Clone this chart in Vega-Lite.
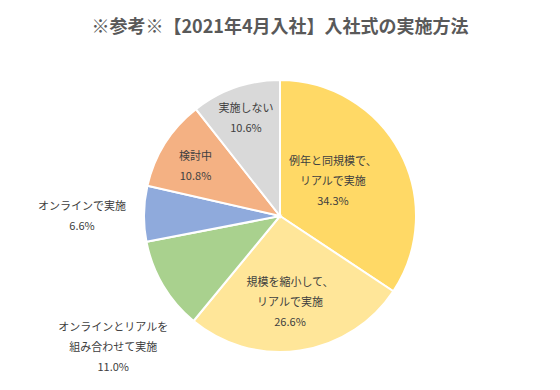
{
  "$schema": "https://vega.github.io/schema/vega-lite/v6.json",
  "width": 560,
  "height": 344,
  "autosize": {"type": "none"},
  "padding": {"left": 0, "right": 0, "top": 44, "bottom": 0},
  "background": "white",
  "title": {
    "text": "※参考※【2021年4月入社】入社式の実施方法",
    "font": "Noto Sans CJK JP",
    "fontSize": 18,
    "fontWeight": "bold",
    "color": "#595959",
    "offset": -20
  },
  "data": {
    "values": [
      {"i": 1, "cat": "例年と同規模で、リアルで実施", "label": "例年と同規模で、\nリアルで実施\n34.3%", "v": 34.3},
      {"i": 2, "cat": "規模を縮小して、リアルで実施", "label": "規模を縮小して、\nリアルで実施\n26.6%", "v": 26.6},
      {"i": 3, "cat": "オンラインとリアルを組み合わせて実施", "label": "オンラインとリアルを\n組み合わせて実施\n11.0%", "v": 11.0},
      {"i": 4, "cat": "オンラインで実施", "label": "オンラインで実施\n6.6%", "v": 6.6},
      {"i": 5, "cat": "検討中", "label": "検討中\n10.8%", "v": 10.8},
      {"i": 6, "cat": "実施しない", "label": "実施しない\n10.6%", "v": 10.6}
    ]
  },
  "encoding": {
    "theta": {"field": "v", "type": "quantitative", "stack": true},
    "order": {"field": "i", "type": "quantitative"}
  },
  "layer": [
    {
      "mark": {"type": "arc", "outerRadius": 136, "stroke": "white", "strokeWidth": 2},
      "encoding": {
        "color": {
          "field": "cat",
          "type": "nominal",
          "scale": {
            "domain": ["例年と同規模で、リアルで実施", "規模を縮小して、リアルで実施", "オンラインとリアルを組み合わせて実施", "オンラインで実施", "検討中", "実施しない"],
            "range": ["#FFD966", "#FFE699", "#A9D18E", "#8FAADC", "#F4B183", "#D9D9D9"]
          },
          "legend": null
        }
      }
    },
    {
      "mark": {"type": "text", "radius": 60, "dy": -26, "font": "Noto Sans CJK JP", "fontSize": 11, "color": "#404040", "lineBreak": "\n", "lineHeight": 20, "align": "center", "baseline": "middle"},
      "encoding": {"text": {"condition": {"test": "datum.i == 1", "field": "label"}, "value": ""}}
    },
    {
      "mark": {"type": "text", "radius": 68, "dy": 0, "font": "Noto Sans CJK JP", "fontSize": 11, "color": "#404040", "lineBreak": "\n", "lineHeight": 20, "align": "center", "baseline": "middle"},
      "encoding": {"text": {"condition": {"test": "datum.i == 2", "field": "label"}, "value": ""}}
    },
    {
      "mark": {"type": "text", "radius": 194, "dy": 13, "font": "Noto Sans CJK JP", "fontSize": 11, "color": "#404040", "lineBreak": "\n", "lineHeight": 20, "align": "center", "baseline": "middle"},
      "encoding": {"text": {"condition": {"test": "datum.i == 3", "field": "label"}, "value": ""}}
    },
    {
      "mark": {"type": "text", "radius": 198, "dy": -6, "font": "Noto Sans CJK JP", "fontSize": 11, "color": "#404040", "lineBreak": "\n", "lineHeight": 20, "align": "center", "baseline": "middle"},
      "encoding": {"text": {"condition": {"test": "datum.i == 4", "field": "label"}, "value": ""}}
    },
    {
      "mark": {"type": "text", "radius": 100, "dy": -6, "font": "Noto Sans CJK JP", "fontSize": 11, "color": "#404040", "lineBreak": "\n", "lineHeight": 20, "align": "center", "baseline": "middle"},
      "encoding": {"text": {"condition": {"test": "datum.i == 5", "field": "label"}, "value": ""}}
    },
    {
      "mark": {"type": "text", "radius": 104, "dy": -9, "font": "Noto Sans CJK JP", "fontSize": 11, "color": "#404040", "lineBreak": "\n", "lineHeight": 20, "align": "center", "baseline": "middle"},
      "encoding": {"text": {"condition": {"test": "datum.i == 6", "field": "label"}, "value": ""}}
    }
  ],
  "config": {"view": {"stroke": null}}
}
